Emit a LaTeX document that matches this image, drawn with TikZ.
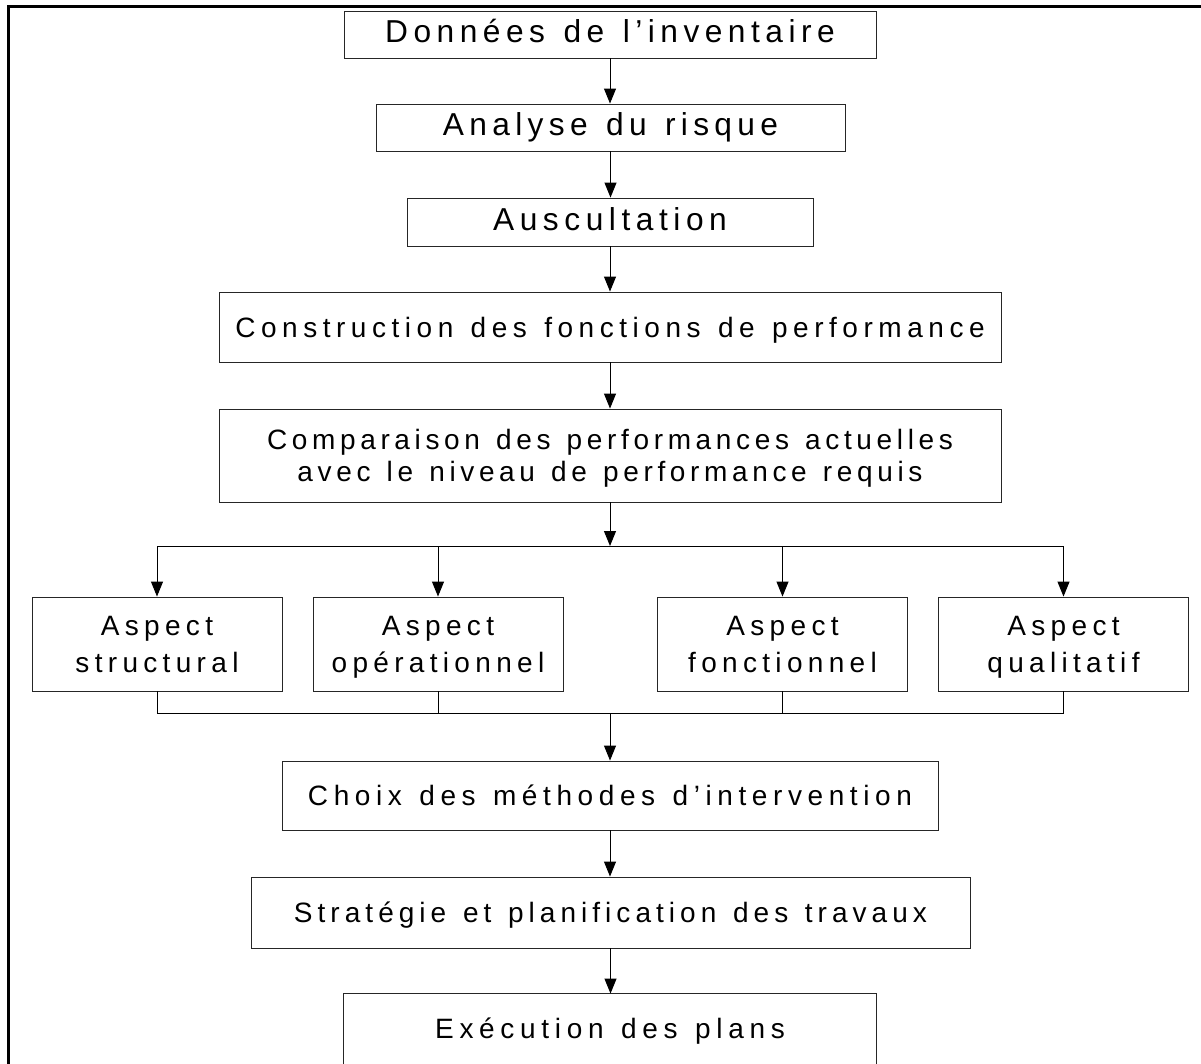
\documentclass[tikz,border=0pt]{standalone}
\usepackage{fontspec}
\setmainfont{Liberation Sans}
\newfontfamily\boxfont{Liberation Sans}[Ligatures=NoCommon,WordSpace=1.3]
\newcommand\bigtxt[1]{\boxfont\fontsize{31.7}{38}\selectfont\addfontfeatures{LetterSpace=#1}}
\newcommand\smalltxt[1]{\boxfont\fontsize{28}{37}\selectfont\addfontfeatures{LetterSpace=#1}}
\usetikzlibrary{arrows.meta}
\begin{document}
\begin{tikzpicture}[x=1pt,y=-1pt,
  boxline/.style={draw=black!85, line width=0.9pt},
  box/.style={boxline, inner sep=0pt, align=center},
  big/.style={text height=22.7pt, text depth=6pt},
  one/.style={text height=20pt, text depth=0pt},
  arr/.style={-{Triangle[length=15pt,width=12pt]}, line width=1pt},
  conn/.style={line width=1pt},
  aspect/.style={box, text depth=0pt, minimum width=250pt, minimum height=94pt, font=\smalltxt{19}}]
\useasboundingbox (0,0) rectangle (1201,1063);
% frame
\draw[line width=3pt] (8.7,1090) -- (8.7,6.7) -- (1230,6.7);
% boxes
\node[box, big, minimum width=532pt, minimum height=47pt, font=\bigtxt{17.3}] (don) at (610,34.5) {Données de l’inventaire};
\node[box, big, minimum width=469pt, minimum height=47pt, font=\bigtxt{16.8}] (ana) at (610.5,127.5) {Analyse du risque};
\node[box, big, minimum width=406pt, minimum height=48pt, font=\bigtxt{17.5}] (aus) at (610,222) {Auscultation};
\node[box, one, minimum width=782pt, minimum height=70pt, font=\smalltxt{19.8}] (con) at (610,327) {Construction des fonctions de performance};
\node[box, text depth=0pt, minimum width=782pt, minimum height=93pt, font={\boxfont\fontsize{28}{32}\selectfont\addfontfeatures{LetterSpace=16.6}}] (com) at (610,455.5) {Comparaison des performances actuelles\\avec le niveau de performance requis};
\node[aspect] (s1) at (157,644) {Aspect\\structural};
\node[aspect] (s2) at (438,644) {Aspect\\opérationnel};
\node[aspect] (s3) at (782.5,644) {Aspect\\fonctionnel};
\node[aspect] (s4) at (1063.5,644) {Aspect\\qualitatif};
\node[box, one, minimum width=656pt, minimum height=69pt, font=\smalltxt{20}] (cho) at (610,795.5) {Choix des méthodes d’intervention};
\node[box, one, minimum width=719pt, minimum height=71pt, font=\smalltxt{18}] (str) at (610.5,912.5) {Stratégie et planification des travaux};
\node[box, one, draw=none, minimum width=532pt, minimum height=69pt, font=\smalltxt{20.3}] (exe) at (610,1028.5) {Exécution des plans};
\draw[boxline] ([yshift=-30pt]exe.south west) -- (exe.north west) -- (exe.north east) -- ([yshift=-30pt]exe.south east);
% connectors
\draw[arr] (don.south) -- (don.south |- ana.north);
\draw[arr] (ana.south) -- (ana.south |- aus.north);
\draw[arr] (aus.south) -- (aus.south |- con.north);
\draw[arr] (con.south) -- (con.south |- com.north);
\coordinate (br) at (610,546);
\draw[arr] (com.south) -- (com.south |- br);
\draw[conn] (s1.north |- br) -- (s4.north |- br);
\foreach \n in {s1,s2,s3,s4} \draw[arr] (\n.north |- br) -- (\n.north);
\coordinate (cl) at (610,713);
\foreach \n in {s1,s2,s3,s4} \draw[conn] (\n.south) -- (\n.south |- cl);
\draw[conn] (s1.south |- cl) -- (s4.south |- cl);
\draw[arr] (cl) -- (cl |- cho.north);
\draw[arr] (cho.south) -- (cho.south |- str.north);
\draw[arr] (str.south) -- (str.south |- exe.north);
\end{tikzpicture}
\end{document}
